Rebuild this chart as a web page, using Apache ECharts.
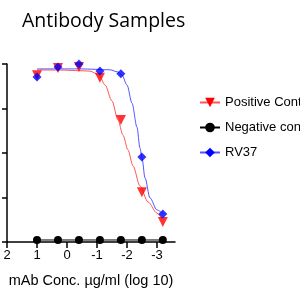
<!DOCTYPE html>
<html>
<head>
<meta charset="utf-8">
<script src="https://cdn.jsdelivr.net/npm/echarts@6/dist/echarts.min.js"></script>
<style>
    html, body { margin: 0; padding: 0; background: #fff; }
    #chart { width: 300px; height: 300px; }
</style>
</head>
<body>
<div id="chart"></div>
<script>
    // dilution series, log10 conc.
    var logConc = [1, 0.301, -0.398, -1.097, -1.796, -2.495, -3.194];
    var positive = [3.75, 3.91, 3.93, 3.69, 2.74, 1.12, 0.45];
    var negative = [0.045, 0.045, 0.045, 0.045, 0.045, 0.045, 0.045];
    var rv37 = [3.71, 3.93, 4.0, 3.84, 3.78, 1.91, 0.63];

    // fitted curves
    var posFitX = [1, 0.233, -0.433, -0.767, -1.067, -1.267, -1.5, -1.7, -1.867, -2.033, -2.2, -2.433, -2.7, -3.0, -3.167];
    var posFitY = [3.865, 3.865, 3.85, 3.84, 3.75, 3.53, 3.17, 2.74, 2.40, 2.07, 1.71, 1.26, 0.90, 0.65, 0.52];
    var rvFitX = [1, -0.433, -1.433, -1.7, -1.833, -2.0, -2.167, -2.333, -2.433, -2.5, -2.6, -2.767, -3.0, -3.2];
    var rvFitY = [3.89, 3.89, 3.87, 3.82, 3.75, 3.53, 3.12, 2.58, 2.11, 1.89, 1.44, 0.99, 0.72, 0.63];

    var xTicks = [2, 1, 0, -1, -2, -3];
    var seriesNames = ['Positive Control', 'Negative control', 'RV37'];

    function pairs(xs, ys) {
        return xs.map(function(x, i) { return [x, ys[i]]; });
    }

    var font = '"Liberation Sans", Arial, sans-serif';

    var option = {
        backgroundColor: '#fff',
        animation: false,
        title: {
            text: 'Antibody Samples',
            left: 17,
            top: 6,
            textStyle: {
                fontFamily: '"Open Sans", sans-serif',
                fontWeight: 'normal',
                fontSize: 19.5,
                color: '#000'
            }
        },
        legend: {
            data: seriesNames,
            orient: 'vertical',
            left: 194,
            top: 91,
            itemWidth: 20,
            itemHeight: 12,
            itemGap: 12,
            textStyle: {
                fontFamily: font,
                fontSize: 13,
                color: '#000'
            }
        },
        grid: {
            left: 7,
            right: 125,
            top: 64,
            bottom: 58,
            containLabel: false
        },
        xAxis: {
            type: 'value',
            inverse: true,
            min: -3.6,
            max: 2,
            name: 'mAb Conc. \u00b5g/ml (log 10)',
            nameLocation: 'middle',
            nameGap: 31,
            nameTextStyle: {
                fontFamily: font,
                fontSize: 14.5,
                color: '#000'
            },
            axisLine: { onZero: false, lineStyle: { color: '#000', width: 1.5 } },
            axisTick: {
                length: 6,
                customValues: xTicks,
                lineStyle: { color: '#000', width: 1.5 }
            },
            axisLabel: {
                customValues: xTicks,
                margin: 7,
                fontFamily: font,
                fontSize: 13,
                color: '#000'
            },
            splitLine: { show: false }
        },
        yAxis: {
            type: 'value',
            position: 'left',
            min: 0,
            max: 4,
            interval: 1,
            axisLine: { show: true, onZero: false, lineStyle: { color: '#000', width: 1.5 } },
            axisTick: { show: true, length: 5, lineStyle: { color: '#000', width: 1.5 } },
            axisLabel: { show: false },
            splitLine: { show: false }
        },
        series: [
            {
                name: 'Positive Control',
                type: 'line',
                smooth: 0.3,
                smoothMonotone: 'x',
                symbol: 'triangle',
                symbolRotate: 180,
                symbolSize: 10,
                showSymbol: false,
                color: '#ff0000',
                lineStyle: { width: 1, color: '#ff5555' },
                data: pairs(posFitX, posFitY),
                z: 2
            },
            {
                name: 'Positive Control',
                type: 'scatter',
                symbol: 'triangle',
                symbolRotate: 180,
                symbolSize: 10,
                itemStyle: { color: '#ff0000' },
                data: pairs(logConc, positive),
                z: 4
            },
            {
                name: 'Negative control',
                type: 'line',
                symbol: 'circle',
                symbolSize: 8,
                color: '#000',
                lineStyle: { width: 1, color: '#000' },
                itemStyle: { color: '#000' },
                data: pairs(logConc, negative),
                z: 3
            },
            {
                name: 'RV37',
                type: 'line',
                smooth: 0.3,
                smoothMonotone: 'x',
                symbol: 'diamond',
                symbolSize: 9,
                showSymbol: false,
                color: '#0000ff',
                lineStyle: { width: 1, color: '#5555ff' },
                data: pairs(rvFitX, rvFitY),
                z: 2
            },
            {
                name: 'RV37',
                type: 'scatter',
                symbol: 'diamond',
                symbolSize: 9,
                itemStyle: { color: '#0000ff' },
                data: pairs(logConc, rv37),
                z: 5
            }
        ]
    };

    var myChart = echarts.init(document.getElementById('chart'));
    myChart.setOption(option);
</script>
</body>
</html>
